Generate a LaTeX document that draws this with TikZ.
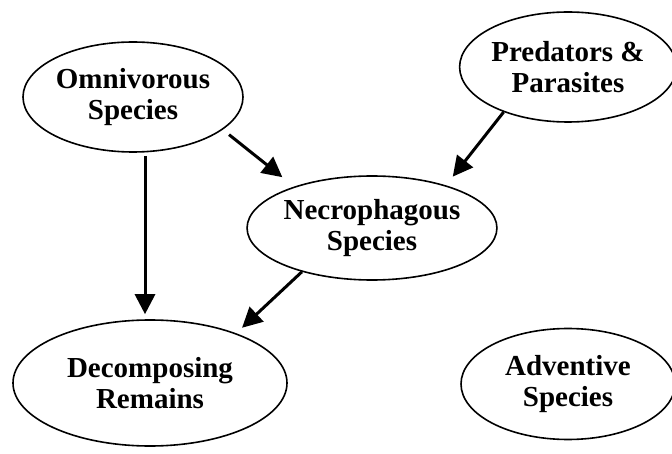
\documentclass[tikz,border=0pt]{standalone}
\usepackage{fontspec}
\setmainfont{Liberation Serif}
\usetikzlibrary{shapes.geometric,arrows.meta}
\begin{document}
\begin{tikzpicture}[x=1pt,y=-1pt,
   sp/.style={ellipse,draw,line width=1.6pt,inner sep=0pt,align=center,
      font=\fontsize{29}{31}\selectfont\bfseries},
   arr/.style={line width=3pt,-{Triangle[length=20pt,width=20pt]}}]
   \useasboundingbox (0,0) rectangle (672,454);
   \node [sp,minimum width=220pt,minimum height=110pt] (omni) at (133,97) {Omnivorous\\Species};
   \node [sp,minimum width=214pt,minimum height=110pt] (pred) at (568,67) {Predators \&\\Parasites};
   \node [sp,minimum width=220pt,minimum height=104pt] (necro) at (372,228) {Necrophagous\\Species};
   \node [sp,minimum width=274pt,minimum height=126pt] (decomp) at (150,383) {Decomposing\\Remains};
   \node [sp,minimum width=214pt,minimum height=111pt] (advent) at (568,384) {Adventive\\Species};
   \draw [arr,shorten <=8pt,shorten >=15pt] (omni.-20) -- (necro.152);
   \draw [arr,shorten >=11pt] (pred.215) -- (necro.30);
   \draw [arr,shorten <=3pt,shorten >=5pt] ([xshift=12pt]omni.south) -- ([xshift=12pt]omni.south |- decomp.north);
   \draw [arr,shorten >=8pt] (necro.212) -- (decomp.30);
\end{tikzpicture}
\end{document}
